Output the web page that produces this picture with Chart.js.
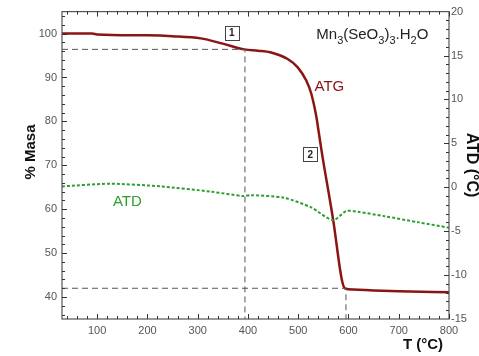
<!DOCTYPE html>
<html>
<head>
<meta charset="utf-8">
<script src="https://cdn.jsdelivr.net/npm/chart.js@4.4.0/dist/chart.umd.min.js"></script>
<style>
  html, body { margin: 0; padding: 0; background: #fff; }
  #wrap { width: 479px; height: 356px; }
</style>
</head>
<body>
<div id="wrap"><canvas id="tgChart" width="479" height="356"></canvas></div>
<script>
// ---- data ----
const tempATG = [30, 90, 100, 200, 250, 306, 350, 393, 420, 446, 479, 499, 516, 526, 536, 541, 547, 570, 587, 593, 610, 650, 700, 800];
const massATG = [100.0, 100.0, 99.8, 99.6, 99.4, 98.9, 97.7, 96.4, 96.1, 95.7, 94.2, 92.3, 89.3, 86.3, 81.1, 77.4, 72.9, 57.2, 43.8, 42.0, 41.7, 41.5, 41.3, 41.1];

const tempATD = [30, 126, 226, 326, 390, 406, 472, 526, 569, 596, 619, 672, 740, 800];
const valATD = [0.1, 0.4, 0.1, -0.5, -1.0, -0.9, -1.2, -2.3, -3.75, -2.7, -2.8, -3.3, -4.0, -4.6];

// decomposition steps (dashed guides)
const stepTemps = [394, 595];
const stepMass = [96.4, 42.0];

const xTicks = [100, 200, 300, 400, 500, 600, 700, 800];
const yTicks = [40, 50, 60, 70, 80, 90, 100];
const y2Ticks = [-15, -10, -5, 0, 5, 10, 15, 20];

const redLine = "#8b1414";
const greenLine = "#2e9e2e";
const guideGray = "#555";

function pts(xs, ys) {
  return xs.map((x, i) => ({ x: x, y: ys[i] }));
}

let guides = [];
stepTemps.forEach((t, i) => {
  guides.push({
    data: [{ x: 30, y: stepMass[i] }, { x: t, y: stepMass[i] }, { x: t, y: 35 }],
    borderColor: guideGray,
    borderWidth: 1,
    borderDash: [6, 4],
    pointRadius: 0,
    showLine: true,
    tension: 0,
    yAxisID: "y"
  });
});

// ---- axis box, inward ticks, titles, annotations ----
const decorPlugin = {
  id: "decor",
  afterDraw(chart) {
    const ctx = chart.ctx;
    const a = chart.chartArea;
    const sx = chart.scales.x, sy = chart.scales.y, sy2 = chart.scales.y2;
    ctx.save();
    ctx.strokeStyle = "#555";
    ctx.lineWidth = 1.2;
    ctx.strokeRect(a.left, a.top, a.right - a.left, a.bottom - a.top);

    ctx.lineWidth = 1;
    ctx.strokeStyle = "#333";
    ctx.beginPath();
    for (let v = 40; v <= 800; v += 20) {
      const px = Math.round(sx.getPixelForValue(v)) + 0.5;
      const len = v % 100 === 0 ? 5 : 3;
      ctx.moveTo(px, a.bottom); ctx.lineTo(px, a.bottom - len);
      ctx.moveTo(px, a.top); ctx.lineTo(px, a.top + len);
    }
    for (let v = 36; v <= 104; v += 2) {
      const py = Math.round(sy.getPixelForValue(v)) + 0.5;
      const len = v % 10 === 0 ? 5 : 3;
      ctx.moveTo(a.left, py); ctx.lineTo(a.left + len, py);
    }
    for (let v = -14; v <= 19; v += 1) {
      const py = Math.round(sy2.getPixelForValue(v)) + 0.5;
      const len = v % 5 === 0 ? 5 : 3;
      ctx.moveTo(a.right, py); ctx.lineTo(a.right - len, py);
    }
    ctx.stroke();

    // axis titles
    ctx.fillStyle = "#111";
    ctx.font = "bold 15px 'Liberation Sans', Arial, sans-serif";
    ctx.textAlign = "center";
    ctx.textBaseline = "middle";
    ctx.save();
    ctx.translate(31, 152);
    ctx.rotate(-Math.PI / 2);
    ctx.fillText("% Masa", 0, 0);
    ctx.restore();

    ctx.save();
    ctx.translate(471, 165);
    ctx.rotate(Math.PI / 2);
    ctx.font = "bold 16px 'Liberation Sans', Arial, sans-serif";
    ctx.fillText("ATD (°C)", 0, 0);
    ctx.restore();

    ctx.fillText("T (°C)", 423, 345);

    // curve labels
    ctx.font = "15px 'Liberation Sans', Arial, sans-serif";
    ctx.fillStyle = redLine;
    ctx.fillText("ATG", sx.getPixelForValue(562), sy.getPixelForValue(87.9));
    ctx.fillStyle = greenLine;
    ctx.fillText("ATD", sx.getPixelForValue(160), sy2.getPixelForValue(-1.67));

    // numbered boxes
    const boxes = [["1", 368, 100.2], ["2", 524, 72.5]];
    ctx.font = "bold 10px 'Liberation Sans', Arial, sans-serif";
    boxes.forEach(b => {
      const bx = sx.getPixelForValue(b[1]), by = sy.getPixelForValue(b[2]);
      ctx.fillStyle = "#fff";
      ctx.fillRect(bx - 7, by - 7, 14, 14);
      ctx.strokeStyle = "#444";
      ctx.lineWidth = 1;
      ctx.strokeRect(Math.round(bx - 7) + 0.5, Math.round(by - 7) + 0.5, 14, 14);
      ctx.fillStyle = "#222";
      ctx.fillText(b[0], bx, by + 0.5);
    });

    // formula with subscripts
    let fx = sx.getPixelForValue(536);
    const fy = sy.getPixelForValue(98.7);
    const parts = [["Mn", 0], ["3", 1], ["(SeO", 0], ["3", 1], [")", 0], ["3", 1], [".H", 0], ["2", 1], ["O", 0]];
    ctx.textAlign = "left";
    ctx.textBaseline = "alphabetic";
    ctx.fillStyle = "#222";
    parts.forEach(p => {
      ctx.font = p[1] ? "11px 'Liberation Sans', Arial, sans-serif" : "15px 'Liberation Sans', Arial, sans-serif";
      ctx.fillText(p[0], fx, p[1] ? fy + 5 : fy);
      fx += ctx.measureText(p[0]).width;
    });
    ctx.restore();
  }
};

const tickFont = { family: "'Liberation Sans', Arial, sans-serif", size: 11 };

new Chart(document.getElementById("tgChart"), {
  type: "scatter",
  data: {
    datasets: [
      ...guides,
      {
        label: "ATD",
        data: pts(tempATD, valATD),
        borderColor: greenLine,
        borderWidth: 2,
        borderDash: [3, 2],
        pointRadius: 0,
        showLine: true,
        tension: 0.25,
        yAxisID: "y2"
      },
      {
        label: "ATG",
        data: pts(tempATG, massATG),
        borderColor: redLine,
        borderWidth: 2.5,
        pointRadius: 0,
        showLine: true,
        tension: 0.3,
        cubicInterpolationMode: "monotone",
        yAxisID: "y"
      }
    ]
  },
  options: {
    responsive: false,
    animation: false,
    layout: { padding: { top: 8 } },
    plugins: { legend: { display: false }, tooltip: { enabled: false } },
    scales: {
      x: {
        type: "linear",
        position: "bottom",
        min: 30,
        max: 800,
        afterBuildTicks: s => { s.ticks = xTicks.map(v => ({ value: v })); },
        afterFit: s => { s.height = 37; },
        grid: { display: false, drawTicks: false },
        border: { display: false },
        ticks: { color: "#555", font: tickFont, padding: 5, maxRotation: 0 }
      },
      y: {
        position: "left",
        min: 35,
        max: 105,
        afterBuildTicks: s => { s.ticks = yTicks.map(v => ({ value: v })); },
        afterFit: s => { s.width = 62; },
        grid: { display: false, drawTicks: false },
        border: { display: false },
        ticks: { color: "#555", font: tickFont, padding: 5 }
      },
      y2: {
        position: "right",
        min: -15,
        max: 20,
        afterBuildTicks: s => { s.ticks = y2Ticks.map(v => ({ value: v })); },
        afterFit: s => { s.width = 30; },
        grid: { display: false, drawTicks: false },
        border: { display: false },
        ticks: { color: "#555", font: tickFont, padding: 2 }
      }
    }
  },
  plugins: [decorPlugin]
});
</script>
</body>
</html>
